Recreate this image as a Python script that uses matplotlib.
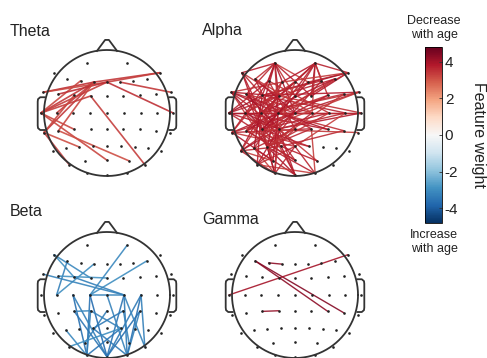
import matplotlib
matplotlib.use("Agg")
import matplotlib.pyplot as plt
import numpy as np
from matplotlib.colors import Normalize
from matplotlib.cm import ScalarMappable

plt.rcParams['font.family'] = ['Liberation Sans', 'DejaVu Sans']

# 2D electrode layout, head radius = 1, nose up
ch_names = ["Fp1", "Fp2", "AF7", "AF8",
            "F5", "F3", "F1", "Fz", "F2", "F4", "F6",
            "FT7", "FC5", "FC3", "FC1", "FCz", "FC2", "FC4", "FC6", "FT8",
            "T7", "C5", "C3", "C1", "Cz", "C2", "C4", "C6", "T8",
            "TP7", "CP5", "CP3", "CP1", "CPz", "CP2", "CP4", "CP6", "TP8",
            "P7", "P5", "P3", "P1", "Pz", "P2", "P4", "P6", "P8",
            "PO7", "PO3", "POz", "PO4", "PO8",
            "O1", "Oz", "O2"]
ch_x = [-0.32, 0.32, -0.84, 0.84,
        -0.63, -0.42, -0.21, 0.0, 0.21, 0.42, 0.63,
        -1.01, -0.77, -0.52, -0.26, 0.0, 0.26, 0.52, 0.77, 1.01,
        -1.05, -0.80, -0.54, -0.27, 0.0, 0.27, 0.54, 0.80, 1.05,
        -1.00, -0.77, -0.52, -0.26, 0.0, 0.26, 0.52, 0.77, 1.00,
        -0.86, -0.65, -0.44, -0.22, 0.0, 0.22, 0.44, 0.65, 0.86,
        -0.60, -0.35, 0.0, 0.35, 0.60,
        -0.32, 0.0, 0.32]
ch_y = [0.79, 0.79, 0.64, 0.64,
        0.54, 0.51, 0.49, 0.49, 0.49, 0.51, 0.54,
        0.33, 0.30, 0.28, 0.27, 0.27, 0.27, 0.28, 0.30, 0.33,
        0.0, 0.0, 0.0, 0.0, 0.0, 0.0, 0.0, 0.0, 0.0,
        -0.31, -0.28, -0.26, -0.25, -0.25, -0.25, -0.26, -0.28, -0.31,
        -0.60, -0.56, -0.54, -0.53, -0.53, -0.53, -0.54, -0.56, -0.60,
        -0.82, -0.76, -0.75, -0.76, -0.82,
        -0.96, -0.98, -0.96]

# connections per band: (channel, channel, feature weight)
theta_edges = [
    ("T7", "F1", 3.4), ("T7", "Fz", 3.3), ("FT7", "F1", 3.5), ("FT7", "Fz", 3.2),
    ("C5", "F1", 3.3), ("TP7", "F1", 3.4), ("T7", "F3", 3.2), ("FC5", "Fz", 3.5),
    ("CP5", "F1", 3.2), ("T7", "FC1", 3.3), ("TP7", "FC3", 3.2),
    ("F1", "AF8", 3.4), ("Fz", "AF8", 3.3), ("Fz", "T8", 3.5), ("F2", "FT8", 3.4),
    ("FC1", "PO8", 3.3), ("T7", "POz", 3.2), ("CP5", "PO4", 3.1), ("TP7", "PO7", 3.3),
    ("T7", "CP3", 3.2), ("TP7", "P3", 3.1),
]

alpha_edges = [
    ("Fp1", "AF7", 3.8), ("Fp1", "F5", 3.5), ("Fp1", "F3", 3.9), ("Fp1", "FC5", 3.6),
    ("Fp1", "FC3", 3.7), ("Fp1", "FC1", 4.0), ("Fp1", "FCz", 3.4), ("Fp1", "C3", 3.8),
    ("Fp1", "C1", 3.6), ("Fp1", "Cz", 3.9), ("Fp1", "F2", 3.3), ("Fp1", "FC2", 3.7),
    ("Fp2", "F1", 3.8), ("Fp2", "Fz", 3.5), ("Fp2", "FC1", 3.9), ("Fp2", "FCz", 3.6),
    ("Fp2", "C1", 3.7), ("Fp2", "C2", 3.4), ("Fp2", "F4", 3.8), ("Fp2", "FC4", 3.5),
    ("Fp2", "AF8", 3.7), ("Fp2", "FC2", 3.9), ("Fp2", "C3", 3.6),
    ("AF8", "F2", 3.5), ("AF8", "FC2", 3.8), ("AF8", "C1", 3.6), ("AF8", "FC3", 3.9),
    ("AF8", "F1", 3.4), ("AF7", "C3", 3.7), ("AF7", "FC1", 3.5), ("AF7", "CP3", 3.8),
    ("AF7", "C1", 3.6),
    ("FT7", "C1", 3.9), ("FT7", "CP1", 3.6), ("FT7", "Cz", 3.7), ("FT7", "P3", 3.4),
    ("FT7", "FC1", 3.8), ("FT7", "F1", 3.5), ("FT7", "CP3", 4.0),
    ("T7", "FC1", 3.7), ("T7", "C2", 3.5), ("T7", "Cz", 3.9), ("T7", "CP1", 3.8),
    ("T7", "P1", 3.6), ("T7", "F3", 3.7), ("T7", "FC3", 4.0),
    ("TP7", "C1", 3.8), ("TP7", "FC3", 3.5), ("TP7", "F3", 3.7), ("TP7", "Cz", 3.6),
    ("TP7", "PO3", 3.9), ("TP7", "Pz", 3.4), ("TP7", "CP2", 3.7),
    ("P7", "C3", 3.8), ("P7", "FC1", 3.5), ("P7", "Cz", 3.7), ("P7", "CP1", 3.9),
    ("P7", "P1", 3.6), ("P7", "PO3", 3.3), ("P7", "O1", 3.7),
    ("FC5", "CP1", 3.8), ("FC5", "P3", 3.6), ("FC5", "Pz", 3.9), ("FC5", "C2", 3.5),
    ("FC5", "CP2", 3.7),
    ("C5", "CP1", 3.9), ("C5", "P1", 3.6), ("C5", "FC1", 3.7), ("C5", "Fz", 3.5),
    ("C5", "CP4", 3.8),
    ("CP5", "FC1", 3.7), ("CP5", "C1", 3.9), ("CP5", "Cz", 3.6), ("CP5", "P2", 3.4),
    ("CP5", "POz", 3.8), ("CP5", "F1", 3.5),
    ("P5", "C1", 3.7), ("P5", "FC3", 3.9), ("P5", "CPz", 3.6), ("P5", "O1", 3.3),
    ("P5", "Oz", 3.7),
    ("P3", "FC1", 3.8), ("P3", "Cz", 3.5), ("P3", "C2", 3.7), ("P3", "O1", 3.4),
    ("P3", "Oz", 3.9),
    ("PO7", "C3", 3.7), ("PO7", "CP1", 3.8), ("PO7", "Pz", 3.5), ("PO7", "CPz", 3.6),
    ("PO7", "O2", 3.3),
    ("O1", "CP1", 3.8), ("O1", "Pz", 3.6), ("O1", "CP3", 3.9), ("O1", "C1", 3.5),
    ("Oz", "CP1", 3.7), ("Oz", "C3", 3.4), ("Oz", "P1", 3.8),
    ("O2", "Pz", 3.6), ("O2", "CP2", 3.3), ("O2", "P3", 3.7),
    ("PO3", "C1", 3.8), ("PO3", "CP3", 3.5), ("POz", "C3", 3.7), ("POz", "CP5", 3.6),
    ("PO4", "CP1", 3.4), ("PO4", "P1", 3.7),
    ("T8", "C1", 3.7), ("T8", "FC1", 3.5), ("T8", "CP1", 3.8), ("T8", "C3", 3.6),
    ("FT8", "Cz", 3.7), ("FT8", "CP3", 3.4), ("FT8", "FC3", 3.8), ("FT8", "C3", 3.5),
    ("C6", "CP1", 3.6), ("C6", "FC3", 3.7), ("C6", "Pz", 3.3),
    ("CP6", "C1", 3.5), ("CP6", "P1", 3.6), ("TP8", "CP3", 3.4),
    ("F6", "FC1", 3.7), ("F6", "C1", 3.5), ("F6", "C3", 3.8),
    ("F4", "FC3", 3.6), ("F4", "CP1", 3.7), ("FC4", "C1", 3.5), ("FC4", "CP3", 3.8),
    ("FC6", "C3", 3.6), ("FC6", "P3", 3.4), ("C4", "CP3", 3.7), ("C4", "P3", 3.5),
    ("CP4", "C1", 3.8), ("CP2", "P3", 3.6), ("P2", "CP3", 3.7),
    ("F2", "C3", 3.5), ("F2", "CP3", 3.8), ("F1", "CP3", 3.6), ("Fz", "C3", 3.7),
    ("Fz", "CP1", 3.4), ("FCz", "CP3", 3.9), ("F3", "CPz", 3.6), ("F3", "C4", 3.5),
    ("F5", "CP1", 3.7), ("F5", "Cz", 3.8), ("F5", "C2", 3.4),
]

beta_edges = [
    ("AF7", "FC1", -3.1), ("AF7", "FC3", -2.9), ("F5", "C5", -3.3), ("C5", "F1", -3.0),
    ("FT7", "C2", -3.2), ("FC5", "FCz", -2.9), ("Fp2", "C1", -3.1), ("F6", "C1", -3.0),
    ("FC3", "C2", -3.3), ("C1", "C2", -3.2),
    ("C1", "O1", -3.5), ("C2", "O2", -3.4), ("C3", "O1", -3.6), ("C3", "Oz", -3.3),
    ("C1", "Oz", -3.7), ("C2", "Oz", -3.5), ("Cz", "O2", -3.2), ("C4", "Oz", -3.4),
    ("C4", "O2", -3.6), ("CP1", "O1", -3.3), ("CP2", "PO4", -3.2), ("CP3", "Oz", -3.5),
    ("CP4", "O2", -3.3), ("CP4", "Oz", -3.6), ("P5", "O1", -3.1), ("P1", "O2", -3.4),
    ("P2", "O1", -3.5), ("CP1", "P2", -3.2), ("CPz", "PO3", -3.3), ("CP2", "P1", -3.4),
    ("C2", "PO8", -3.2), ("PO7", "P2", -3.0), ("C4", "PO8", -3.3), ("CP3", "CP1", -3.1),
]

gamma_edges = [
    ("F5", "CP4", 4.3), ("F5", "CP6", 4.4), ("F3", "F1", 4.3),
    ("T7", "AF8", 4.0), ("CP3", "CP1", 4.2),
]

band_names = ["Theta", "Alpha", "Beta", "Gamma"]
band_edges = [theta_edges, alpha_edges, beta_edges, gamma_edges]
band_lw = [1.2, 1.0, 1.1, 1.0]

W, H = 487, 358
R = 63  # head radius in pixels
centers = [(107, 113), (295, 113), (107, 295), (295, 295)]
title_pos = [(10, 32), (202, 31), (10, 211), (202, 219)]

vlim = 4.8
cmap = plt.get_cmap("RdBu_r")
norm = Normalize(-vlim, vlim)
pos = dict(zip(ch_names, zip(ch_x, ch_y)))

fig = plt.figure(figsize=(W / 100, H / 100), dpi=100)


def draw_head(ax, edges, lw):
    for a, b, w in edges:
        (x0, y0), (x1, y1) = pos[a], pos[b]
        ax.plot([x0, x1], [y0, y1], color=cmap(norm(w)), lw=lw, alpha=0.9,
                solid_capstyle="round", zorder=2)
    ax.plot(ch_x, ch_y, "o", color="#222222", ms=1.9, mew=0, zorder=3)
    t = np.linspace(0, 2 * np.pi, 300)
    ax.plot(np.cos(t), np.sin(t), color="#333333", lw=1.3, zorder=4)
    # nose
    ax.plot([-0.16, -0.03, 0.03, 0.16], [0.985, 1.16, 1.16, 0.985],
            color="#333333", lw=1.3, zorder=4, solid_joinstyle="round")
    # ears
    for s in (-1, 1):
        ex = [0.99, 1.06, 1.095, 1.10, 1.10, 1.095, 1.06, 0.99]
        ey = [0.25, 0.25, 0.22, 0.18, -0.20, -0.24, -0.27, -0.27]
        ax.plot([s * v for v in ex], ey, color="#333333", lw=1.3, zorder=4,
                solid_joinstyle="round")


half = 1.3
for name, edges, lw, (cx, cy), (tx, ty) in zip(band_names, band_edges, band_lw,
                                                centers, title_pos):
    size = 2 * half * R
    ax = fig.add_axes([(cx - size / 2) / W, 1 - (cy + size / 2) / H, size / W, size / H])
    ax.set_xlim(-half, half)
    ax.set_ylim(-half, half)
    ax.axis("off")
    draw_head(ax, edges, lw)
    fig.text(tx / W, 1 - ty / H, name, fontsize=11.5, ha="left", va="center",
             color="#222222")

# colorbar
cax = fig.add_axes([425 / W, 1 - 223 / H, 17 / W, 176 / H])
cb = fig.colorbar(ScalarMappable(norm=norm, cmap=cmap), cax=cax)
cb.set_ticks([-4, -2, 0, 2, 4])
cb.set_ticklabels(["-4", "-2", "0", "2", "4"])
cax.tick_params(direction="in", length=2.5, width=0.6, labelsize=11, pad=2,
                colors="#333333", labelcolor="#222222")
cb.outline.set_linewidth(0.6)
cb.set_label("Feature weight", rotation=270, fontsize=11.5, labelpad=20, color="#222222")
fig.text(434 / W, 1 - 28 / H, "Decrease\nwith age", fontsize=9, ha="center",
         va="center", linespacing=1.15, color="#222222")
fig.text(434 / W, 1 - 242 / H, "Increase\nwith age", fontsize=9, ha="center",
         va="center", linespacing=1.15, color="#222222")

fig.savefig("out.png", dpi=100)
